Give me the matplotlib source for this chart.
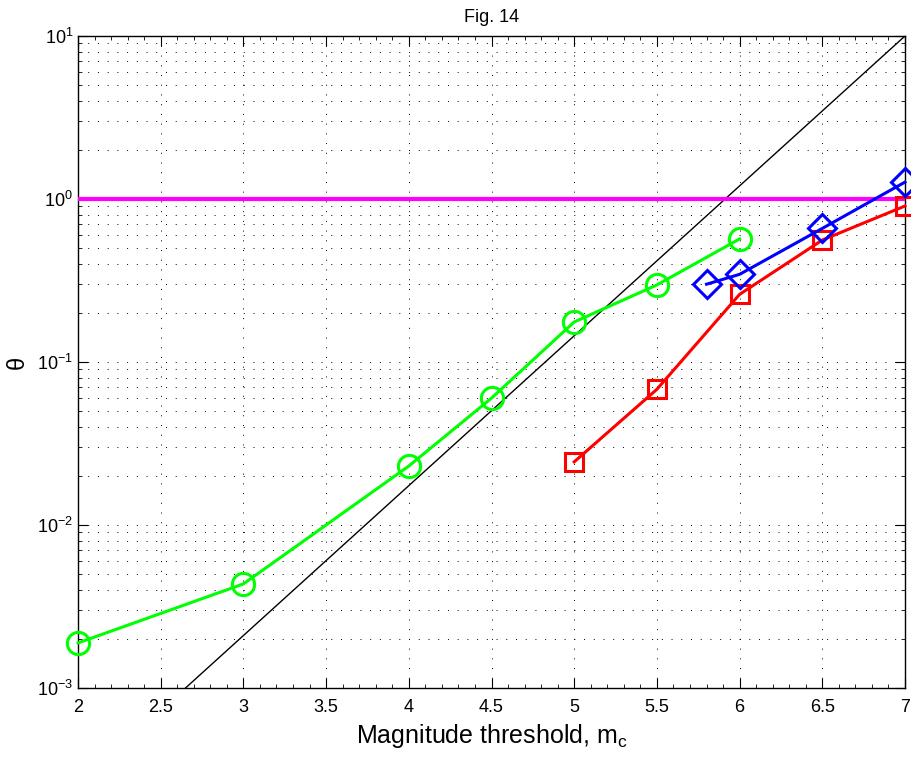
import numpy as np
import matplotlib
matplotlib.use("Agg")
import matplotlib.pyplot as plt
from matplotlib.ticker import LogLocator, MultipleLocator, NullFormatter

# data
m_green = [2, 3, 4, 4.5, 5, 5.5, 6]
th_green = [0.00189, 0.00435, 0.023, 0.060, 0.176, 0.297, 0.569]

m_blue = [5.8, 6, 6.5, 7]
th_blue = [0.30, 0.345, 0.66, 1.27]

m_red = [5, 5.5, 6, 6.5, 7]
th_red = [0.0244, 0.068, 0.26, 0.56, 0.906]

m_ref = [2.65, 7.0]
th_ref = [1e-3, 10.0]

xticks = [2, 2.5, 3, 3.5, 4, 4.5, 5, 5.5, 6, 6.5, 7]

plt.rcParams['font.family'] = ['Liberation Sans', 'DejaVu Sans']
plt.rcParams['mathtext.fontset'] = 'custom'
plt.rcParams['mathtext.rm'] = 'Liberation Sans'
plt.rcParams['mathtext.it'] = 'Liberation Sans'

fig = plt.figure(figsize=(9.12, 7.59), dpi=100)
ax = fig.add_axes([78 / 912, 1 - 688 / 759, 827 / 912, 652 / 759])

ax.plot(m_ref, th_ref, color='black', lw=1.0, zorder=2)
ax.axhline(1.0, color='#ff00ff', lw=3.0, zorder=3)
ax.plot(m_green, th_green, color='#00ff00', lw=2.2, marker='o', ms=16,
        mfc='none', mew=2.2, zorder=4, clip_on=False)
ax.plot(m_red, th_red, color='red', lw=2.2, marker='s', ms=13,
        mfc='none', mew=2.2, zorder=4, clip_on=False)
ax.plot(m_blue, th_blue, color='blue', lw=2.2, marker='D', ms=14,
        mfc='none', mew=2.2, zorder=5, clip_on=False)

ax.set_yscale('log')
ax.set_xlim(2, 7)
ax.set_ylim(1e-3, 10)
ax.set_xticks(xticks)
ax.set_xticklabels([f'{t:g}' for t in xticks])
ax.xaxis.set_minor_locator(MultipleLocator(0.1))
ax.yaxis.set_major_locator(LogLocator(base=10, numticks=10))
ax.yaxis.set_minor_locator(LogLocator(base=10, subs=np.arange(2, 10), numticks=20))
ax.yaxis.set_minor_formatter(NullFormatter())

ax.tick_params(which='both', direction='in', top=True, right=True, labelsize=13)
ax.tick_params(which='major', length=7, width=0.8)
ax.tick_params(which='minor', length=3, width=0.6)
ax.tick_params(axis='x', pad=8)

dots = (0, (1, 9))
ax.grid(True, which='major', axis='both', linestyle=dots, color='black', lw=0.7)
ax.grid(True, which='minor', axis='y', linestyle=dots, color='black', lw=0.7)

for s in ax.spines.values():
    s.set_linewidth(1.0)

ax.set_title('Fig. 14', fontsize=13, pad=10)
ax.set_xlabel('Magnitude threshold, m$_\\mathregular{c}$', fontsize=18, labelpad=4)
ax.set_ylabel('θ', fontsize=17, labelpad=6)

fig.savefig('out.png', dpi=100)
